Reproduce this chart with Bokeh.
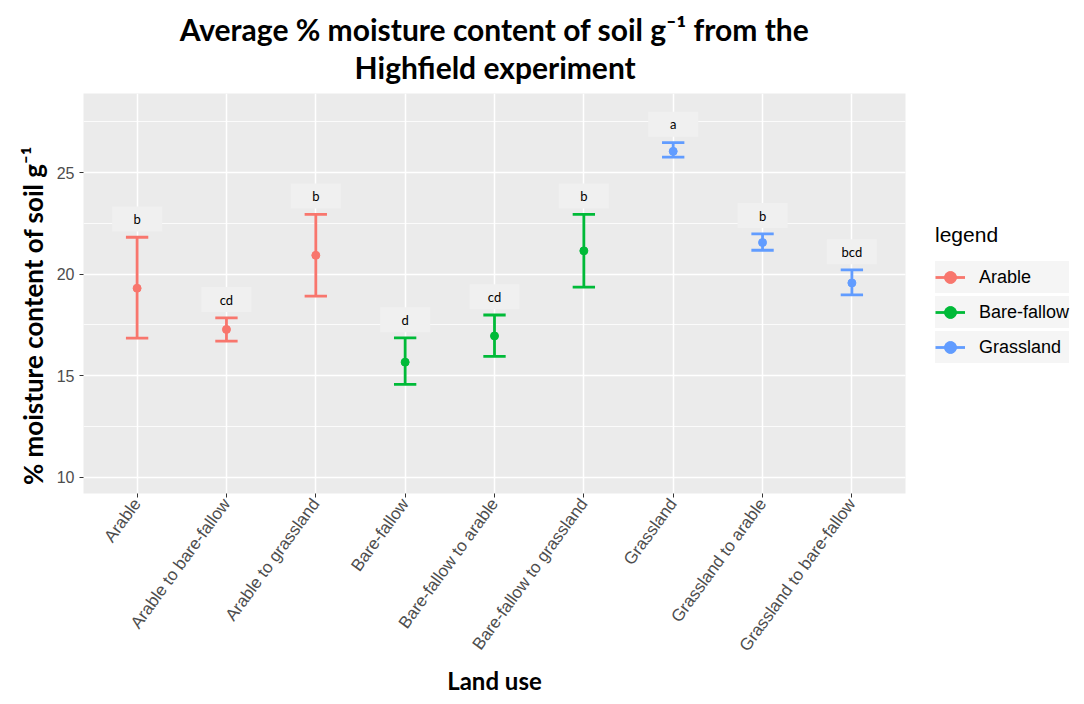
import math
from bokeh.plotting import figure
from bokeh.models import (ColumnDataSource, Range1d, FixedTicker, SingleIntervalTicker,
                          Legend, LegendItem, Title)
from bokeh.core.properties import value
from bokeh.embed import file_html
from bokeh.resources import INLINE

categories = ["Arable", "Arable to bare-fallow", "Arable to grassland", "Bare-fallow",
              "Bare-fallow to arable", "Bare-fallow to grassland", "Grassland",
              "Grassland to arable", "Grassland to bare-fallow"]
groups = ["Arable", "Arable", "Arable", "Bare-fallow", "Bare-fallow", "Bare-fallow",
          "Grassland", "Grassland", "Grassland"]
means = [19.31, 17.28, 20.93, 15.67, 16.96, 21.15, 26.05, 21.56, 19.57]
upper = [21.82, 17.85, 22.95, 16.86, 17.99, 22.95, 26.48, 21.99, 20.21]
lower = [16.85, 16.70, 18.92, 14.57, 15.95, 19.36, 25.77, 21.18, 18.98]
letters = ["b", "cd", "b", "d", "cd", "b", "a", "b", "bcd"]
group_names = ["Arable", "Bare-fallow", "Grassland"]
group_colors = ["#F8766D", "#00BA38", "#619CFF"]
title_lines = ["Average % moisture content of soil g\u207b\u00b9 from the", "Highfield experiment"]

CAP = 0.125
LABEL_GAP = 0.9

p = figure(frame_width=822, frame_height=400, output_backend="svg", toolbar_location=None,
           x_range=Range1d(-0.6, 8.6), y_range=Range1d(9.2, 28.9),
           min_border_left=83, min_border_right=5, min_border_top=4, min_border_bottom=4)
p.background_fill_color = "#EBEBEB"
p.border_fill_color = "white"
p.outline_line_color = None

# two-line title, second line padded so that it sits centred under the first
p.title.text = title_lines[0] + "\n" + "\u00a0" * 24 + title_lines[1]
p.title.align = "center"
p.title.text_font = "Lato"
p.title.text_font_size = "30px"
p.title.text_font_style = "bold"
p.title.text_color = "black"
p.title.text_line_height = 1.07
p.title.offset = -17
p.title.standoff = 16

# axes
p.xaxis.ticker = FixedTicker(ticks=list(range(len(categories))))
p.xaxis.major_label_overrides = {i: c for i, c in enumerate(categories)}
p.xaxis.major_label_orientation = 0.94
p.yaxis.ticker = SingleIntervalTicker(interval=5, num_minor_ticks=2)
for ax in (p.xaxis[0], p.yaxis[0]):
    ax.axis_line_color = None
    ax.major_tick_line_color = "#333333"
    ax.major_tick_in = 0
    ax.major_tick_out = 4
    ax.minor_tick_line_color = None
    ax.major_label_text_font = "Liberation Sans"
    ax.major_label_text_font_size = "16px"
    ax.major_label_text_color = "#4D4D4D"
    ax.axis_label_text_font = "Lato"
    ax.axis_label_text_font_style = "bold"
    ax.axis_label_text_color = "black"
p.xaxis.major_label_text_font_size = "17px"
p.xaxis.major_label_standoff = 3
p.xaxis.axis_label_standoff = 2
p.xaxis.axis_label_text_font_size = "24px"
p.yaxis.axis_label_text_font_size = "26px"
p.xaxis.axis_label = "Land use"
p.yaxis.axis_label = "% moisture content of soil g\u207b\u00b9" + "\u00a0" * 7

p.xgrid.grid_line_color = "white"
p.xgrid.grid_line_width = 1.5
p.ygrid.grid_line_color = "white"
p.ygrid.grid_line_width = 1.5
p.ygrid.minor_grid_line_color = "white"
p.ygrid.minor_grid_line_width = 0.8

items = []
for g, col in zip(group_names, group_colors):
    idx = [i for i, gg in enumerate(groups) if gg == g]
    src = ColumnDataSource(dict(
        x=idx,
        xl=[i - CAP for i in idx],
        xr=[i + CAP for i in idx],
        m=[means[i] for i in idx],
        lo=[lower[i] for i in idx],
        hi=[upper[i] for i in idx],
    ))
    r_v = p.segment(x0="x", y0="lo", x1="x", y1="hi", source=src, line_color=col, line_width=2.8)
    p.segment(x0="xl", y0="lo", x1="xr", y1="lo", source=src, line_color=col, line_width=2.8)
    p.segment(x0="xl", y0="hi", x1="xr", y1="hi", source=src, line_color=col, line_width=2.8)
    r_p = p.scatter(x="x", y="m", source=src, size=8, fill_color=col, line_color=col)
    items.append(LegendItem(label=g, renderers=[r_v, r_p]))

lab_src = ColumnDataSource(dict(
    x=list(range(len(categories))),
    y=[u + LABEL_GAP for u in upper],
    t=letters,
))
p.rect(x="x", y="y", width=50, height=25, width_units="screen", height_units="screen",
       source=lab_src, fill_color="#F0F0F0", line_color=None)
p.text(x="x", y="y", text="t", source=lab_src, text_align="center", text_baseline="middle",
       text_font=value("Lato"), text_font_size="13px", text_color="black")

legend = Legend(items=items, title="legend", location="center_left")
legend.title_text_font = "Liberation Sans"
legend.title_text_font_size = "21px"
legend.title_text_font_style = "normal"
legend.title_text_color = "black"
legend.title_standoff = 14
legend.label_text_font = "Liberation Sans"
legend.label_text_font_size = "18px"
legend.label_text_color = "black"
legend.label_standoff = 14
legend.glyph_width = 30
legend.glyph_height = 32
legend.label_height = 32
legend.spacing = 3
legend.border_line_color = None
legend.background_fill_color = None
legend.margin = 30
legend.padding = 3
legend.item_background_policy = "every"
legend.item_background_fill_color = "#F2F2F2"
p.add_layout(legend, "right")

open("out.html", "w").write(file_html(p, INLINE))
